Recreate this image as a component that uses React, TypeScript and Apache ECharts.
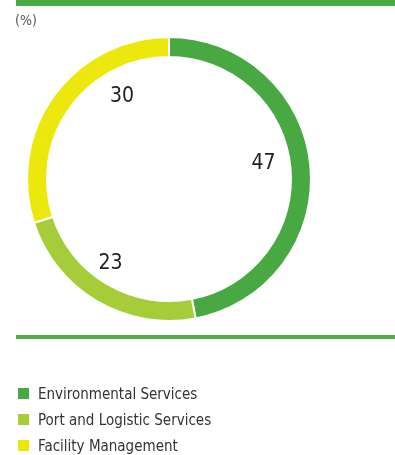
import React, { useEffect, useRef } from "react";
import * as echarts from "echarts";

const categories = ["Environmental Services", "Port and Logistic Services", "Facility Management"];
const values = [47, 23, 30];
const colors = ["#48a942", "#a6cd39", "#ece80e"];
const unitLabel = "(%)";

const FONT = "'Liberation Sans Narrow', 'DejaVu Sans Condensed', 'Roboto', sans-serif";

export default function App() {
  const ref = useRef<HTMLDivElement>(null);
  useEffect(() => {
    if (!ref.current) return;
    const chart = echarts.init(ref.current, null, { renderer: "svg" });
    const ringData = categories.map((name, i) => ({
      name,
      value: values[i],
      itemStyle: { color: colors[i] },
    }));
    const labelOffsets = [[-4, -8], [-8, -2], [33, -26]];
    const labelData = categories.map((name, i) => ({
      name,
      value: values[i],
      label: { offset: labelOffsets[i] },
    }));
    chart.setOption({
      animation: false,
      title: {
        text: unitLabel,
        left: 15,
        top: 13,
        padding: 0,
        textStyle: { fontFamily: FONT, fontSize: 14, fontWeight: "normal", color: "#555" },
      },
      legend: {
        orient: "vertical",
        left: 16,
        top: 386,
        height: 90,
        padding: 0,
        icon: "rect",
        itemWidth: 13,
        itemHeight: 13,
        itemGap: 11,
        selectedMode: false,
        data: categories,
        textStyle: { fontFamily: FONT, fontSize: 15, color: "#333", padding: [0, 0, 0, 3] },
      },
      graphic: [
        { type: "rect", shape: { x: 16, y: 0, width: 379, height: 6 }, style: { fill: "#48a942" } },
        { type: "rect", shape: { x: 16, y: 335, width: 379, height: 4 }, style: { fill: "#55ad45" } },
      ],
      series: [
        {
          type: "pie",
          center: [169, 179],
          radius: [122, 142],
          startAngle: 90,
          clockwise: true,
          label: { show: false },
          labelLine: { show: false },
          itemStyle: { borderColor: "#fff", borderWidth: 2 },
          emphasis: { disabled: true },
          data: ringData,
        },
        {
          type: "pie",
          center: [169, 179],
          radius: [0, 192],
          startAngle: 90,
          clockwise: true,
          silent: true,
          legendHoverLink: false,
          itemStyle: { color: "transparent" },
          label: {
            show: true,
            position: "inside",
            formatter: "{c}",
            fontFamily: FONT,
            fontSize: 21,
            color: "#222",
          },
          labelLine: { show: false },
          emphasis: { disabled: true },
          data: labelData,
          z: 3,
        },
      ],
    });
    return () => chart.dispose();
  }, []);
  return <div ref={ref} style={{ position: "fixed", left: 0, top: 0, width: 395, height: 455 }} />;
}
